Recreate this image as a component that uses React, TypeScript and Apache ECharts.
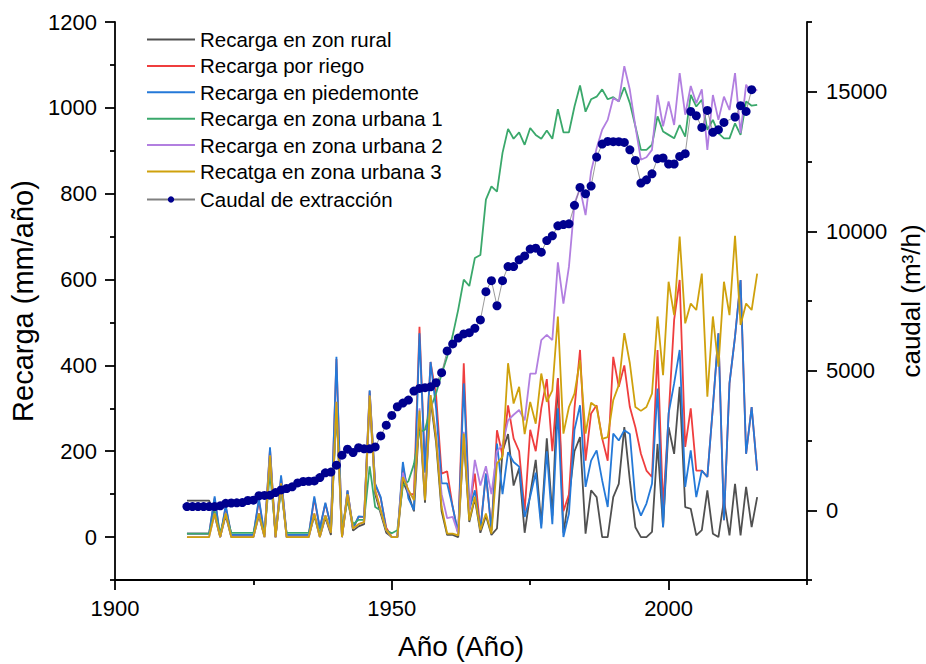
import React, { useEffect, useRef } from "react";
import * as echarts from "echarts";

const FIRST_YEAR = 1913;
const LAST_YEAR = 2016;

const seriesNames = [
  "Recarga en zon rural",
  "Recarga por riego",
  "Recarga en piedemonte",
  "Recarga en zona urbana 1",
  "Recarga en zona urbana 2",
  "Recatga en zona urbana 3",
  "Caudal de extracción",
];

const xMajorTicks = [1900, 1950, 2000];
const xMinorTicks = [1925, 1975, 2025];
const leftMajorTicks = [0, 200, 400, 600, 800, 1000, 1200];
const leftMinorTicks = [-100, 100, 300, 500, 700, 900, 1100];
const rightMajorTicks = [0, 5000, 10000, 15000];
const rightMinorTicks = [-2500, 2500, 7500, 12500, 17500];

// 1913 … 2016, one value per year
const rural = [
  85, 85, 85, 85, 85, 50, 0,
  50, 0, 0, 0, 0, 0, 50, 0, 180, 0,
  120, 0, 0, 0, 0, 0, 50, 0, 45, 5,
  300, 0, 95, 15, 25, 30, 320, 100, 55, 10,
  0, 0, 130, 100, 60, 280, 80, 320, 220, 60,
  5, 5, 0, 230, 35, 90, 10, 50, 5, 20,
  200, 240, 120, 160, 10, 100, 180, 30, 230, 50,
  370, 10, 93, 200, 233, 8, 109, 93, 0, 0,
  93, 124, 256, 132, 23, 0, 0, 12, 217, 23,
  256, 194, 350, 70, 66, 4, 16, 109, 8, 0,
  86, 4, 124, 4, 117, 23, 93,
];

const riego = [
  8, 8, 8, 8, 8, 90, 0,
  70, 5, 5, 5, 5, 5, 85, 5, 205, 0,
  140, 5, 5, 5, 5, 5, 90, 20, 78, 25,
  415, 0, 108, 20, 47, 47, 340, 122, 90, 22,
  0, 0, 165, 100, 100, 490, 160, 408, 330, 148,
  153, 70, 8, 405, 63, 148, 16, 148, 16, 249,
  190, 307, 230, 200, 60, 250, 200, 300, 368, 200,
  370, 60, 100, 300, 436, 178, 288, 307, 230, 178,
  420, 350, 400, 303, 256, 194, 155, 140, 436, 70,
  280, 506, 599, 210, 300, 155, 155, 140, 303, 475,
  39, 358, 467, 599, 194, 303, 155,
];

const piedemonte = [
  8, 8, 8, 8, 8, 95, 0,
  74, 5, 5, 5, 5, 5, 90, 5, 209, 0,
  144, 5, 5, 5, 5, 5, 95, 20, 80, 25,
  420, 0, 109, 20, 48, 47, 342, 124, 93, 16,
  0, 0, 175, 90, 63, 475, 150, 408, 300, 125,
  125, 70, 8, 358, 63, 109, 16, 148, 16, 218,
  100, 198, 175, 164, 47, 94, 150, 20, 200, 30,
  300, 0, 55, 250, 307, 117, 178, 202, 132, 70,
  241, 225, 249, 240, 86, 50, 78, 124, 346, 23,
  288, 358, 436, 117, 202, 93, 155, 140, 303, 475,
  39, 358, 467, 599, 194, 303, 155,
];

const urbana1 = [
  8, 8, 8, 8, 8, 60, 10,
  55, 10, 10, 10, 10, 10, 55, 10, 150, 10,
  110, 10, 10, 10, 10, 10, 50, 10, 50, 15,
  300, 20, 85, 30, 40, 40, 165, 70, 62, 16,
  9, 16, 120, 130, 170, 245, 250, 300, 335, 380,
  420, 470, 530, 600, 585, 650, 657, 786, 817, 805,
  895, 951, 928, 943, 914, 953, 937, 928, 947, 928,
  997, 943, 943, 1003, 1052, 991, 1020, 1026, 1043, 1020,
  1025, 1015, 1048, 1011, 957, 902, 902, 914, 980, 945,
  937, 929, 960, 933, 1030, 1003, 1019, 949, 972, 941,
  929, 929, 964, 937, 1015, 1005, 1007,
];

const urbana2 = [
  0, 0, 0, 0, 0, 55, 0,
  55, 0, 0, 0, 0, 0, 55, 0, 190, 0,
  125, 0, 0, 0, 0, 0, 55, 0, 50, 10,
  315, 0, 100, 20, 30, 35, 330, 109, 62, 16,
  0, 0, 150, 105, 90, 300, 90, 331, 240, 100,
  44, 47, 8, 245, 60, 180, 120, 165, 100, 200,
  215, 272, 285, 296, 272, 381, 381, 459, 471, 459,
  640, 544, 630, 777, 812, 750, 852, 906, 949, 972,
  1023, 1015, 1097, 1042, 957, 879, 885, 902, 1030, 957,
  1015, 960, 1081, 984, 1051, 1011, 1043, 902, 1030, 972,
  1026, 995, 1081, 941, 1054, 1034, 1043,
];

const urbana3 = [
  0, 0, 0, 0, 0, 55, 0,
  55, 0, 0, 0, 0, 0, 55, 0, 190, 0,
  125, 0, 0, 0, 0, 0, 55, 0, 50, 10,
  315, 0, 100, 20, 30, 35, 330, 109, 62, 16,
  0, 0, 140, 110, 86, 295, 86, 331, 230, 70,
  8, 8, 4, 241, 39, 94, 16, 55, 8, 172,
  187, 405, 311, 350, 240, 315, 264, 381, 315, 342,
  514, 241, 303, 334, 412, 241, 313, 303, 229, 233,
  319, 354, 475, 405, 303, 294, 303, 334, 514, 377,
  595, 517, 700, 498, 544, 529, 614, 327, 514, 397,
  595, 517, 702, 494, 544, 529, 614,
];

const caudal: (number | null)[] = [
  130, 130, 130, 130, 130, 130, 160,
  250, 260, 265, 275, 350, 360, 520, 530, 540, 635,
  730, 780, 840, 980, 1030, 1040, 1050, 1170, 1340, 1370,
  1615, 1975, 2190, 2070, 2240, 2200, 2200, 2270, 2665, 3050,
  3400, 3710, 3840, 3950, 4270, 4365, 4395, 4425, 4570, 4930,
  5710, 5960, 6170, 6320, 6365, 6520, 6820, 7835, 8230, 7330,
  8230, 8735, 8735, 8975, 9115, 9360, 9395, 9250, 9665, 9835,
  10195, 10240, 10265, 10930, 11570, 11340, 11620, 12660, 13125, 13220,
  13210, 13210, 13185, 12920, 12540, 11725, 11845, 12060, 12600, 12625,
  12410, 12410, 12680, 12780, 14295, 14140, 13720, 14330, 13545, 13640,
  13900, null, 14095, 14500, 14295, 15075, null,
];

const colors = ["#505050", "#ef3e3e", "#2479d8", "#3aa86b", "#b27fe0", "#cfa10d"];
const FONT = "Liberation Sans, Arial, Helvetica, sans-serif";
const LINE_ICON = "path://M0,0H48V2H0Z";

const years: number[] = [];
for (let y = FIRST_YEAR; y <= LAST_YEAR; y++) years.push(y);

const pair = (vals: (number | null)[]) => years.map((y, i) => [y, vals[i]]);

export default function App() {
  const ref = useRef<HTMLDivElement>(null);
  useEffect(() => {
    if (!ref.current) return;
    const chart = echarts.init(ref.current, undefined, { renderer: "svg" });
    const axisLineStyle = { color: "#000", width: 1.8 };
    const labelStyle = { fontSize: 22, color: "#000", fontFamily: FONT, formatter: (v: number) => String(v) };
    const nameStyle = { fontSize: 29, color: "#000", fontFamily: FONT };
    const recharge = [rural, riego, piedemonte, urbana1, urbana2, urbana3];
    const option: any = {
      animation: false,
      backgroundColor: "#fff",
      textStyle: { fontFamily: FONT },
      grid: { left: 115, right: 119, top: 22, bottom: 84, containLabel: false, outerBoundsMode: "none" },
      legend: {
        orient: "vertical",
        left: 141,
        top: 24,
        itemWidth: 48,
        itemHeight: 8,
        itemGap: 5.4,
        textStyle: { fontSize: 20.5, lineHeight: 20, color: "#000", fontFamily: FONT },
        data: [
          ...seriesNames.slice(0, 6).map((n) => ({ name: n, icon: LINE_ICON })),
          { name: seriesNames[6], textStyle: { lineHeight: 24 } },
        ],
      },
      xAxis: [
        {
          type: "value",
          min: 1900,
          max: 2025,
          position: "bottom",
          axisLine: { show: true, onZero: false, lineStyle: axisLineStyle },
          axisTick: { show: true, customValues: xMajorTicks, length: 10, lineStyle: axisLineStyle },
          axisLabel: { customValues: xMajorTicks, margin: 17, ...labelStyle },
          splitLine: { show: false },
          name: "Año (Año)",
          nameLocation: "middle",
          nameGap: 52,
          nameTextStyle: { fontSize: 28, lineHeight: 28, color: "#000", fontFamily: FONT },
        },
        {
          type: "value",
          min: 1900,
          max: 2025,
          position: "bottom",
          axisLine: { show: false, onZero: false },
          axisTick: { show: true, customValues: xMinorTicks, length: 5, lineStyle: axisLineStyle },
          axisLabel: { show: false },
          splitLine: { show: false },
        },
      ],
      yAxis: [
        {
          type: "value",
          min: -100,
          max: 1200,
          position: "left",
          axisLine: { show: true, onZero: false, lineStyle: axisLineStyle },
          axisTick: { show: true, customValues: leftMajorTicks, length: 10, lineStyle: axisLineStyle },
          axisLabel: { customValues: leftMajorTicks, margin: 18, ...labelStyle },
          splitLine: { show: false },
          name: "Recarga (mm/año)",
          nameLocation: "middle",
          nameGap: 70,
          nameTextStyle: nameStyle,
        },
        {
          type: "value",
          min: -100,
          max: 1200,
          position: "left",
          axisLine: { show: false, onZero: false },
          axisTick: { show: true, customValues: leftMinorTicks, length: 5, lineStyle: axisLineStyle },
          axisLabel: { show: false },
          splitLine: { show: false },
        },
        {
          type: "value",
          min: -2500,
          max: 17500,
          position: "right",
          axisLine: { show: true, onZero: false, lineStyle: axisLineStyle },
          axisTick: { show: true, customValues: rightMajorTicks, length: 10, lineStyle: axisLineStyle },
          axisLabel: { customValues: rightMajorTicks, margin: 19, ...labelStyle },
          splitLine: { show: false },
          name: "caudal (m³/h)",
          nameLocation: "middle",
          nameGap: 88,
          nameTextStyle: { fontSize: 26, lineHeight: 26, color: "#000", fontFamily: FONT },
        },
        {
          type: "value",
          min: -2500,
          max: 17500,
          position: "right",
          axisLine: { show: false, onZero: false },
          axisTick: { show: true, customValues: rightMinorTicks, length: 5, lineStyle: axisLineStyle },
          axisLabel: { show: false },
          splitLine: { show: false },
        },
      ],
      series: [
        ...recharge.map((vals, i) => ({
          name: seriesNames[i],
          type: "line",
          xAxisIndex: 0,
          yAxisIndex: 0,
          data: pair(vals),
          symbol: "none",
          color: colors[i],
          lineStyle: { color: colors[i], width: 1.8 },
        })),
        {
          name: seriesNames[6],
          type: "line",
          xAxisIndex: 0,
          yAxisIndex: 2,
          data: pair(caudal),
          connectNulls: true,
          symbol: "circle",
          symbolSize: 9,
          color: "#00008e",
          itemStyle: { color: "#00008e" },
          lineStyle: { color: "#808080", width: 0.8 },
        },
      ],
    };
    chart.setOption(option);
    return () => chart.dispose();
  }, []);
  return (
    <div
      ref={ref}
      style={{ position: "fixed", left: 0, top: 0, width: 926, height: 664, background: "#fff" }}
    />
  );
}
